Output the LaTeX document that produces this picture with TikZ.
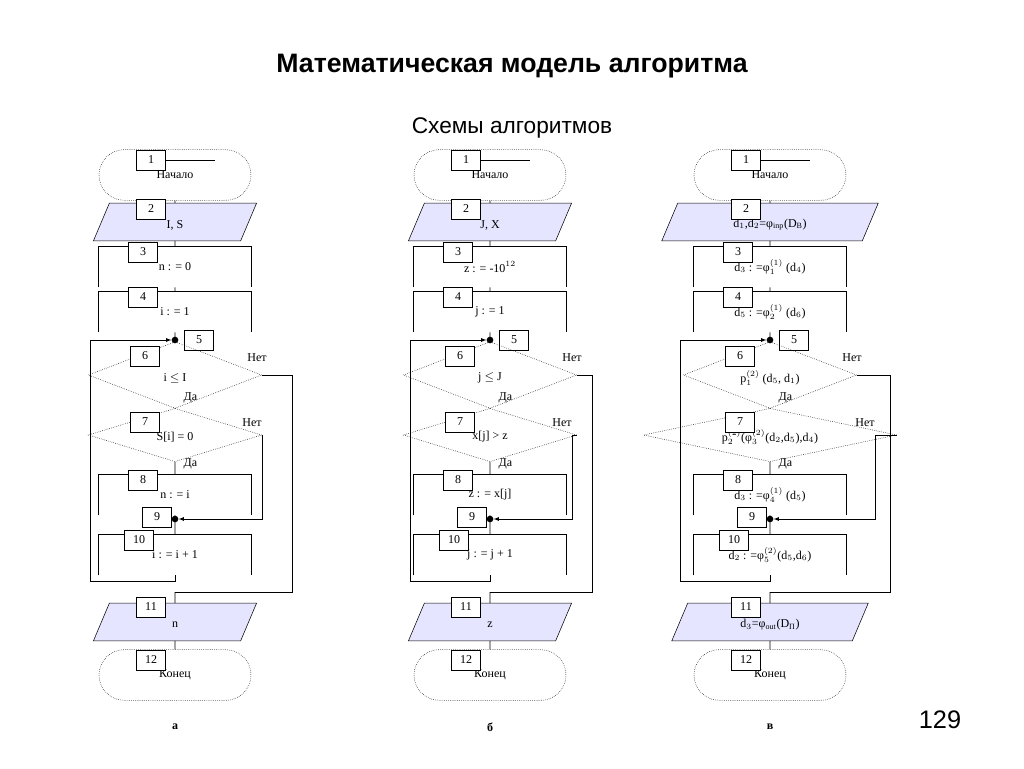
\documentclass[tikz,border=0pt]{standalone}
\usepackage{fontspec}
\setmainfont{Liberation Serif}
\newfontfamily\sansf{Liberation Sans}
\usetikzlibrary{shapes.geometric,shapes.misc,calc}
\tikzset{
 term/.style={rounded rectangle,draw,densely dotted,minimum width=114,minimum height=38,inner sep=0},
 io/.style={minimum height=28,inner sep=0},
 iofill/.style={draw,fill=blue!10!white},
 proc/.style={minimum width=114,minimum height=30,inner sep=0},
 dia/.style={diamond,draw,densely dotted,inner sep=0},
 nbox/.style={draw,fill=white,minimum width=22,minimum height=15,inner sep=0,font=\small},
 txt/.style={font=\small},
 dot/.style={circle,fill,inner sep=0,minimum size=5},
 arr/.style={-latex}
}
% #1 prefix, #2 X, #3 t2, #4 t3, #5 t4, #6 t6, #7 t7, #8 t8, #9 t10
\newcommand\fcol[9]{%
 \node[term] (#11) at (#2,175) {\small Начало};
 \node[nbox] (#1n1) at (#2-24,160) {1};
 \draw (#1n1.east) -- (#2+40,160);
 \node[io,minimum width=\iow] (#12) at (#2,222) {};
 \draw[iofill] ($(#12.south west)+(-8,0)$) -- ($(#12.north west)+(8,0)$) -- ($(#12.north east)+(8,0)$) -- ($(#12.south east)+(-8,0)$) -- cycle;
 \node[txt] (#12t) at (#2,225) {#3};
 \node[nbox] (#1n2) at (#2-24,209) {2};
 \node[proc] (#13) at (#2,267) {\small #4};
 \node[proc] (#14) at (#2,312) {\small #5};
 \coordinate (#15) at (#2,340);
 \node[nbox] (#1n5) at (#2+24,340) {5};
 \node[dia,minimum width=130,minimum height=50] (#16) at (#2,375) {};
 \node[txt] (#16t) at (#2,378) {#6};
 \node[nbox] (#1n6) at (#2-30,356) {6};
 \node[dia,minimum width=\dsev,minimum height=40] (#17) at (#2,435) {};
 \node[txt] (#17t) at (#2,437) {#7};
 \node[nbox] (#1n7) at (#2-30,422) {7};
 \node[proc] (#18) at (#2,495) {\small #8};
 \coordinate (#19) at (#2,519);
 \node[nbox] (#1n9) at (#2-18,517) {9};
 \node[proc] (#110) at (#2,555) {\small #9};
 \coordinate (#1j) at (#2,592);
 \node[io,minimum width=\iowe] (#111) at (#2,622) {};
 \draw[iofill] ($(#111.south west)+(-8,0)$) -- ($(#111.north west)+(8,0)$) -- ($(#111.north east)+(8,0)$) -- ($(#111.south east)+(-8,0)$) -- cycle;
 \node[txt] (#111t) at (#2,625) {\tE};
 \node[nbox] (#1n11) at (#2-24,607) {11};
 \node[term] (#112) at (#2,675) {\small Конец};
 \node[nbox] (#1n12) at (#2-24,660) {12};
 \foreach \k in {3,4,8,10}{\draw (#1\k.south west) -- (#1\k.north west) -- (#1\k.north east) -- (#1\k.south east);}
 \node[nbox] (#1n3) at (#2-32,252) {3};
 \node[nbox] (#1n4) at (#2-32,297) {4};
 \node[nbox] (#1n8) at (#2-32,480) {8};
 \node[nbox] (#1n10) at (#2-36,540) {10};
 \draw (#11) -- (#12.north) (#12.south) -- (#13.north) (#13.south) -- (#14.north) (#14.south) -- (#16.north);
 \node[dot] (#1d5) at (#15) {};
 \node[dot] (#1d9) at (#19) {};
 \draw (#16.south) -- (#17.north) (#17.south) -- (#18.north) (#18.south) -- (#110.north) (#1j) -- (#111.north) (#111.south) -- (#112);
 \node[txt,anchor=west] at (#2+4,398) {Да};
 \node[txt,anchor=west] at (#2+4,464) {Да};
 \node[txt] at (#2+82,358) {Нет};
 \node[txt] at (\sx-10,423) {Нет};
 \draw[arr] (#110.south) -- (#2,581) -- (\lx,581) -- (\lx,340) -- (#1d5);
 \draw (#16.east) -- (\rx,375) -- (\rx,592) -- (#1j);
 \draw[arr] (#17.east) -- (\sx,435) -- (\sx,519) -- (#1d9);
}
\begin{document}
\begin{tikzpicture}[x=0.75pt,y=-0.75pt]
\fill[white] (0,0) rectangle (1024,768);
\node[font=\sansf\bfseries\fontsize{20}{24}\selectfont] (title) at (512,66) {Математическая модель алгоритма};
\node[font=\sansf\fontsize{17}{20}\selectfont] (sub) at (512,128) {Схемы алгоритмов};
\node[font=\sansf\fontsize{19}{22}\selectfont] (pg) at (940,720) {129};
\def\iow{110}\def\iowe{110}\def\dsev{130}\def\lx{90}\def\rx{292}\def\sx{262}\def\tE{n}
\fcol{a}{175}{I, S}{n : = 0}{i : = 1}{i $\le$ I}{S[i] = 0}{n : = i}{i : = i + 1}
\def\lx{410}\def\rx{592}\def\sx{572}\def\tE{z}
\fcol{b}{490}{J, X}{z : = -10$^{12}$}{j : = 1}{j $\le$ J}{x[j] > z}{z : = x[j]}{j : = j + 1}
\def\iow{150}\def\iowe{135}\def\dsev{190}\def\lx{680}\def\rx{890}\def\sx{875}\def\tE{d$_3$=φ$_{\mathrm{out}}$(D\textsubscript{П})}
\fcol{c}{770}{d$_1$,d$_2$=φ$_{\mathrm{inp}}$(D$_{\mathrm{B}}$)}{d$_3$ : =φ$_1^{(1)}$ (d$_4$)}{d$_5$ : =φ$_2^{(1)}$ (d$_6$)}{p$_1^{(2)}$ (d$_5$, d$_1$)}{p$_2^{(2)}$(φ$_3^{(2)}$(d$_2$,d$_5$),d$_4$)}{d$_3$ : =φ$_4^{(1)}$ (d$_5$)}{d$_2$ : =φ$_5^{(2)}$(d$_5$,d$_6$)}
\node[font=\small\bfseries] (la) at (175,727) {а};
\node[font=\small\bfseries] (lb) at (490,727) {б};
\node[font=\small\bfseries] (lc) at (770,727) {в};
\end{tikzpicture}
\end{document}
